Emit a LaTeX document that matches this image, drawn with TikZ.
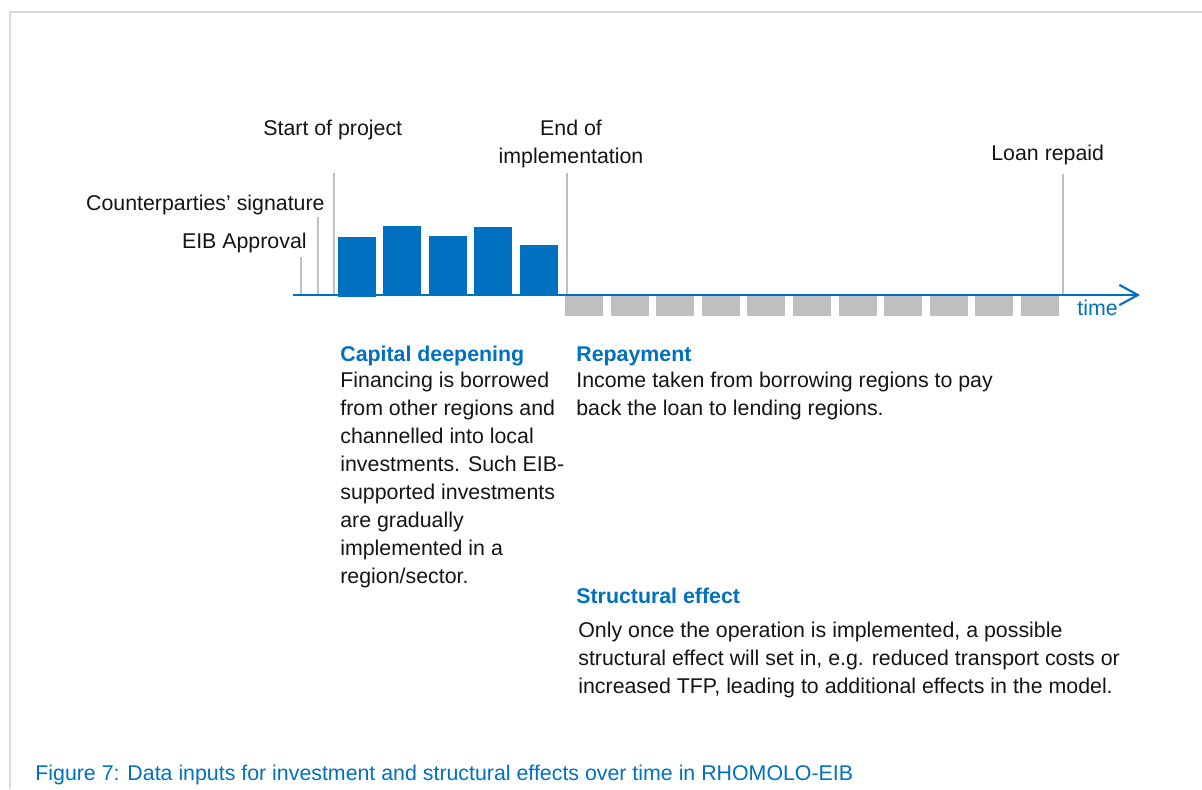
\documentclass[tikz,border=0pt]{standalone}
\usepackage{fontspec}
\setmainfont{Liberation Sans}
\usetikzlibrary{arrows.meta}
\definecolor{eibblue}{HTML}{0070C0}
\definecolor{bargray}{HTML}{BFBFBF}
\definecolor{framegray}{HTML}{DADADA}
\definecolor{txt}{HTML}{141414}

\begin{document}
\begin{tikzpicture}[x=0.02cm,y=-0.02cm,
  lbl/.style={inner sep=0pt,font=\fontsize{12.15}{16}\selectfont,text=txt},
  head/.style={inner sep=0pt,font=\fontsize{12.15}{16}\selectfont\bfseries,text=eibblue},
  tick/.style={bargray,line width=1.1pt}]
\useasboundingbox (0,0) rectangle (1202,789);
\draw[framegray,line width=1.2pt] (10,789)--(10,12)--(1202,12);

% milestones
\draw[tick] (301,295)--(301,257);
\draw[tick] (318,295)--(318,217);
\draw[tick] (334,295)--(334,173);
\draw[tick] (567,295)--(567,173);
\draw[tick] (1063,295)--(1063,174);
\node[lbl,anchor=base east] (approval) at (307,248) {EIB Approval};
\node[lbl,anchor=base east] (signature) at (325,210) {Counterparties’ signature};
\node[lbl,anchor=base west] (start) at (263,135) {Start of project};
\node[lbl,anchor=base] (end1) at (571,135) {End of};
\node[lbl,anchor=base] (end2) at (571,163) {implementation};
\node[lbl,anchor=base west] (repaid) at (991,160) {Loan repaid};

% time axis
\coordinate (t0) at (293,295);
\coordinate (t1) at (1140,295);
\draw[eibblue,line width=1.2pt,-{Straight Barb[length=10.5pt,width=11.5pt,line width=1.2pt]}] (t0)--(t1);
\node[inner sep=0pt,anchor=base west,font=\fontsize{12.15}{16}\selectfont,text=eibblue] (time) at (1077,315) {time};

% investment bars
\foreach \x/\h/\b in {338/237/297,383/226/295,429/236/295,474/227/295,520/245/295}
  \fill[eibblue] (\x,\h) rectangle (\x+38,\b);

% repayment blocks
\foreach \i in {0,...,10}
  \fill[bargray] (565+45.6*\i,296) rectangle ++(38,19.5);

% capital deepening
\node[head,anchor=base west] (cdhead) at (340,361) {Capital deepening};
\foreach \t [count=\i from 0] in {Financing is borrowed,from other regions and,channelled into local,investments. Such EIB-,supported investments,are gradually,implemented in a,region/sector.}
  \node[lbl,anchor=base west] (cd-\i) at (340,387+28*\i) {\t};

% repayment
\node[head,anchor=base west] (rphead) at (576,361) {Repayment};
\foreach \t [count=\i from 0] in {Income taken from borrowing regions to pay,back the loan to lending regions.}
  \node[lbl,anchor=base west] (rp-\i) at (576,387+28*\i) {\t};

% structural effect
\node[head,anchor=base west] (sehead) at (576,603) {Structural effect};
\foreach \t [count=\i from 0] in {{Only once the operation is implemented, a possible},{structural effect will set in, e.g. reduced transport costs or},{increased TFP, leading to additional effects in the model.}}
  \node[lbl,anchor=base west] (se-\i) at (578,637+28*\i) {\t};

% caption
\node[inner sep=0pt,anchor=base west,font=\fontsize{12.15}{16}\selectfont,text=eibblue] (caption) at (35,780)
  {Figure 7: Data inputs for investment and structural effects over time in RHOMOLO-EIB};
\end{tikzpicture}
\end{document}
